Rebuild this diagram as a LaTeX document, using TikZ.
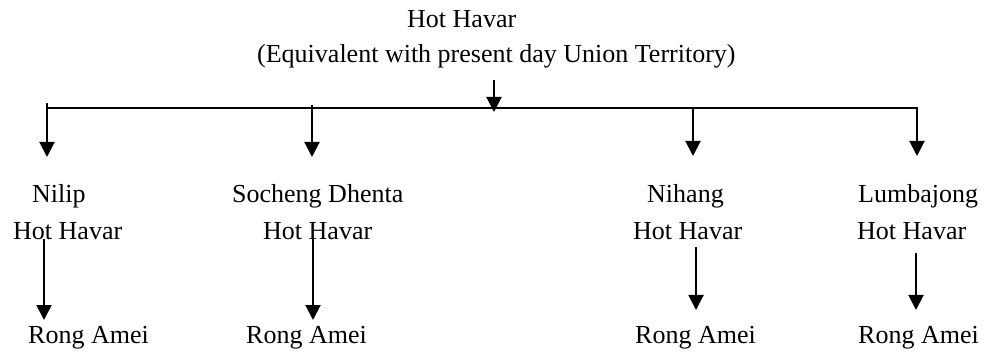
\documentclass[tikz,border=0pt]{standalone}
\usepackage{fontspec}
\setmainfont{Liberation Serif}
\usetikzlibrary{arrows.meta}
\begin{document}
\begin{tikzpicture}[x=1pt,y=-1pt,
  lbl/.style={anchor=base west,inner sep=0pt,font=\fontsize{26}{30}\selectfont},
  arr/.style={line width=2pt,-{Triangle[length=15pt,width=15pt]}},
  barline/.style={line width=2pt}]
\useasboundingbox (0,0) rectangle (984,352);
% texts
\node[lbl] (root) at (407,28) {Hot Havar};
\node[lbl] (rootsub) at (257,63) {(Equivalent with present day Union Territory)};
\node[lbl] (n1a) at (32,203) {Nilip};
\node[lbl] (n1b) at (13,240) {Hot Havar};
\node[lbl] (n1c) at (28,343) {Rong Amei};
\node[lbl] (n2a) at (232,203) {Socheng Dhenta};
\node[lbl] (n2b) at (263,240) {Hot Havar};
\node[lbl] (n2c) at (246,343) {Rong Amei};
\node[lbl] (n3a) at (647,203) {Nihang};
\node[lbl] (n3b) at (633,240) {Hot Havar};
\node[lbl] (n3c) at (635,343) {Rong Amei};
\node[lbl] (n4a) at (858,203) {Lumbajong};
\node[lbl] (n4b) at (857,240) {Hot Havar};
\node[lbl] (n4c) at (858,343) {Rong Amei};
% connector points
\coordinate (ts) at (494,80);
\coordinate (te) at (494,112);
\coordinate (bl) at (47,108);
\coordinate (br) at (918,108);
\coordinate (d1s) at (47,103);  \coordinate (d1e) at (47,157);
\coordinate (d2s) at (312,105); \coordinate (d2e) at (312,157);
\coordinate (d3s) at (693,108); \coordinate (d3e) at (693,156);
\coordinate (d4s) at (917,108); \coordinate (d4e) at (917,156);
\coordinate (l1s) at (44,239);  \coordinate (l1e) at (44,320);
\coordinate (l2s) at (313,239); \coordinate (l2e) at (313,320);
\coordinate (l3s) at (696,247); \coordinate (l3e) at (696,310);
\coordinate (l4s) at (916,253); \coordinate (l4e) at (916,310);
% connectors
\draw[arr] (ts) -- (te);
\draw[barline] (bl) -- (br);
\draw[arr] (d1s) -- (d1e);
\draw[arr] (d2s) -- (d2e);
\draw[arr] (d3s) -- (d3e);
\draw[arr] (d4s) -- (d4e);
\draw[arr] (l1s) -- (l1e);
\draw[arr] (l2s) -- (l2e);
\draw[arr] (l3s) -- (l3e);
\draw[arr] (l4s) -- (l4e);
\end{tikzpicture}
\end{document}
